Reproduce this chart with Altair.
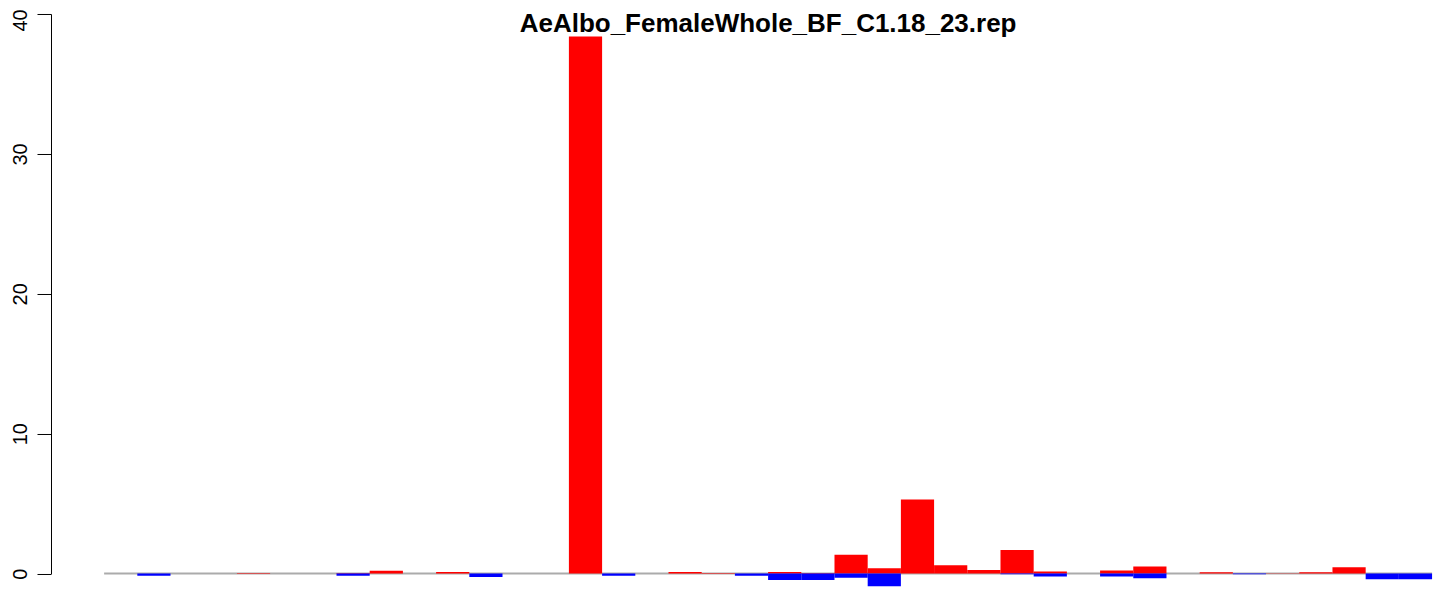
import altair as alt
import pandas as pd

title_text = "AeAlbo_FemaleWhole_BF_C1.18_23.rep"

# 40 bins (R barplot, space = 0)
bins = list(range(40))
pos_vals = [0, 0, 0, 0, 0.05, 0, 0, 0.05, 0.2, 0,
            0.12, 0, 0, 0, 38.4, 0, 0, 0.12, 0.05, 0,
            0.12, 0.05, 1.35, 0.38, 5.3, 0.6, 0.25, 1.68, 0.15, 0,
            0.22, 0.5, 0, 0.1, 0, 0.03, 0.1, 0.45, 0, 0]
neg_vals = [0, -0.15, 0, 0, 0, 0, 0, -0.15, 0, 0,
            0, -0.25, 0, 0, 0, -0.15, 0, 0, 0, -0.15,
            -0.45, -0.45, -0.3, -0.9, 0, 0, 0, -0.05, -0.2, 0,
            -0.2, -0.33, 0, 0, -0.05, 0, 0, 0, -0.4, -0.4]
y_ticks = [0, 10, 20, 30, 40]

df = pd.DataFrame({"bin": bins, "pos": pos_vals, "neg": neg_vals})
df["bin_end"] = df["bin"] + 1
df["zero"] = 0.0

rule_df = pd.DataFrame({"start": [0], "end": [len(bins)], "zero": [0.0]})
title_df = pd.DataFrame({"x": [len(bins) / 2], "label": [title_text]})

xscale = alt.Scale(domain=[-1.6, 40.1], nice=False, zero=False)
yscale = alt.Scale(domain=[0, 40], nice=False, zero=False)

yaxis = alt.Axis(
    values=y_ticks, title=None, grid=False,
    tickSize=14, tickColor="black", tickWidth=1,
    domainColor="black", domainWidth=1,
    labelAngle=270, labelAlign="center", labelBaseline="alphabetic",
    labelPadding=10.5, labelFontSize=20, labelFont="Liberation Sans",
    labelColor="black", format="d",
    labelOffset={"condition": {"test": "datum.value == 40", "value": 6}, "value": 0},
)

baseline = alt.Chart(rule_df).mark_rule(color="#ABABAB", strokeWidth=2).encode(
    x=alt.X("start:Q", scale=xscale, axis=None),
    x2="end:Q",
    y=alt.Y("zero:Q", scale=yscale, axis=yaxis),
)

red = alt.Chart(df).mark_rect(color="#FF0000", strokeWidth=0).encode(
    x=alt.X("bin:Q", scale=xscale, axis=None),
    x2="bin_end:Q",
    y=alt.Y("pos:Q", scale=yscale, axis=yaxis),
    y2="zero:Q",
)

blue = alt.Chart(df).mark_rect(color="#0000FF", strokeWidth=0).encode(
    x=alt.X("bin:Q", scale=xscale, axis=None),
    x2="bin_end:Q",
    y=alt.Y("neg:Q", scale=yscale, axis=yaxis),
    y2="zero:Q",
)

title = alt.Chart(title_df).mark_text(
    font="Liberation Sans", fontSize=26, fontWeight="bold",
    align="center", baseline="alphabetic", color="black",
).encode(
    x=alt.X("x:Q", scale=xscale, axis=None),
    y=alt.value(18),
    text="label:N",
)

chart = alt.layer(baseline, red, blue, title).properties(
    width=1384.4,
    height=559.6,
    padding={"left": 43, "top": 6, "right": 0, "bottom": 18},
    autosize=alt.AutoSizeParams(type="none"),
).configure_view(stroke=None)

chart.save("out.html", embed_options={"renderer": "svg", "actions": False})
